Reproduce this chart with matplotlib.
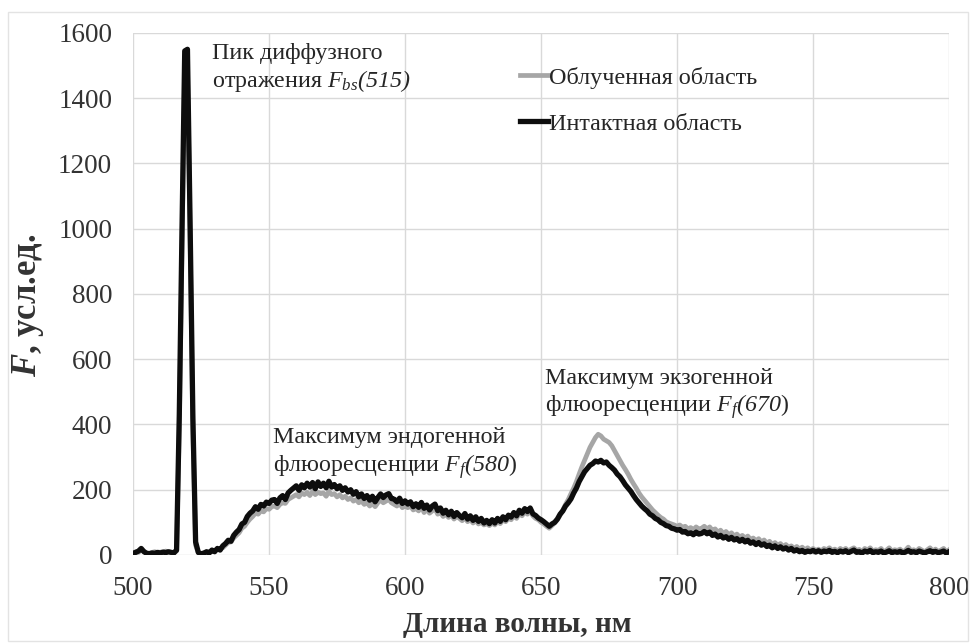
import numpy as np
import matplotlib
matplotlib.use('Agg')
import matplotlib.pyplot as plt
from matplotlib.patches import Rectangle

plt.rcParams['font.family'] = 'serif'
plt.rcParams['font.serif'] = ['Liberation Serif', 'DejaVu Serif']
plt.rcParams['mathtext.fontset'] = 'custom'
plt.rcParams['mathtext.rm'] = 'Liberation Serif'
plt.rcParams['mathtext.it'] = 'Liberation Serif:italic'
plt.rcParams['mathtext.sf'] = 'Liberation Serif:italic'   # used for italic digits
plt.rcParams['mathtext.bf'] = 'Liberation Serif:bold'
plt.rcParams['mathtext.bfit'] = 'Liberation Serif:italic:bold'

# wavelength, nm (1 nm step)
wavelength = list(range(500, 801))

# intact area, one row = 10 nm
intact = [
    5, 8, 12, 20, 10, 5, 4, 6, 5, 8,                        # 500
    6, 9, 7, 10, 8, 6, 15, 430, 1000, 1545,                 # 510
    1550, 1000, 420, 40, 8, 3, 5, 10, 6, 15,                # 520
    10, 20, 15, 28, 35, 45, 42, 60, 70, 78,                 # 530
    95, 100, 118, 128, 135, 148, 140, 155, 150, 162,        # 540
    158, 168, 170, 158, 175, 182, 170, 190, 198, 205,       # 550
    212, 198, 215, 206, 220, 208, 222, 203, 224, 210,       # 560
    220, 206, 226, 208, 216, 203, 212, 198, 206, 193,       # 570
    200, 186, 194, 178, 187, 173, 182, 168, 180, 163,       # 580
    176, 187, 176, 184, 188, 173, 171, 163, 174, 158,       # 590
    166, 156, 163, 148, 157, 146, 161, 143, 153, 138,       # 600
    150, 156, 136, 144, 128, 137, 123, 134, 118, 130,       # 610
    121, 114, 127, 110, 120, 106, 117, 103, 112, 98,        # 620
    106, 96, 108, 98, 112, 103, 117, 108, 122, 116,         # 630
    130, 120, 137, 128, 142, 133, 144, 126, 121, 113,       # 640
    108, 102, 95, 88, 95, 100, 110, 125, 135, 150,          # 650
    160, 172, 190, 205, 225, 240, 255, 265, 275, 280,       # 660
    288, 285, 290, 282, 285, 275, 268, 260, 248, 240,       # 670
    228, 215, 205, 195, 182, 170, 160, 150, 142, 135,       # 680
    125, 120, 112, 108, 100, 96, 90, 88, 82, 80,            # 690
    76, 78, 70, 72, 65, 68, 62, 70, 64, 66,                 # 700
    72, 65, 70, 60, 64, 55, 60, 52, 56, 48,                 # 710
    54, 46, 50, 42, 48, 40, 45, 36, 40, 32,                 # 720
    38, 30, 34, 26, 30, 22, 28, 20, 25, 18,                 # 730
    22, 15, 20, 12, 16, 10, 14, 8, 12, 10,                  # 740
    14, 9, 13, 8, 12, 10, 14, 8, 11, 7,                     # 750
    12, 9, 13, 7, 11, 15, 8, 10, 6, 12,                     # 760
    9, 14, 7, 10, 8, 12, 6, 9, 13, 7,                       # 770
    10, 8, 11, 6, 9, 14, 8, 10, 7, 12,                      # 780
    9, 6, 10, 13, 8, 11, 7, 9, 12, 6,                       # 790
    10,                                                     # 800
]

# irradiated area
irradiated = [
    6, 10, 8, 15, 12, 6, 5, 8, 10, 6,                       # 500
    9, 7, 12, 8, 7, 9, 12, 390, 950, 1490,                  # 510
    1500, 960, 380, 30, 6, 4, 8, 7, 10, 12,                 # 520
    14, 18, 20, 22, 30, 38, 40, 52, 60, 68,                 # 530
    82, 88, 100, 110, 118, 128, 125, 135, 132, 142,         # 540
    140, 148, 150, 145, 155, 160, 158, 170, 175, 180,       # 550
    185, 178, 190, 185, 192, 182, 195, 185, 192, 188,       # 560
    190, 180, 195, 185, 188, 178, 185, 175, 180, 170,       # 570
    175, 165, 170, 160, 165, 155, 160, 150, 158, 148,       # 580
    160, 168, 160, 165, 170, 160, 155, 150, 158, 145,       # 590
    150, 145, 150, 138, 142, 135, 148, 130, 140, 128,       # 600
    135, 142, 125, 130, 118, 125, 115, 122, 110, 118,       # 610
    112, 105, 115, 102, 108, 98, 105, 95, 100, 92,          # 620
    96, 90, 98, 92, 102, 96, 108, 102, 112, 108,            # 630
    120, 112, 128, 120, 132, 125, 135, 120, 112, 108,       # 640
    100, 95, 88, 82, 90, 98, 108, 122, 138, 155,            # 650
    170, 188, 205, 225, 248, 270, 290, 310, 330, 345,       # 660
    360, 370, 365, 355, 350, 345, 335, 320, 305, 290,       # 670
    275, 262, 248, 232, 218, 205, 190, 178, 168, 158,       # 680
    148, 138, 130, 122, 115, 110, 102, 98, 95, 92,          # 690
    88, 92, 85, 88, 80, 84, 78, 86, 80, 82,                 # 700
    88, 80, 86, 75, 80, 70, 76, 66, 72, 62,                 # 710
    68, 58, 64, 55, 60, 52, 58, 48, 52, 44,                 # 720
    50, 40, 46, 36, 42, 32, 38, 30, 35, 26,                 # 730
    32, 24, 28, 20, 26, 18, 24, 16, 22, 15,                 # 740
    20, 14, 18, 12, 20, 16, 22, 14, 18, 12,                 # 750
    20, 15, 20, 12, 18, 22, 14, 17, 10, 20,                 # 760
    15, 22, 12, 16, 14, 20, 10, 15, 22, 12,                 # 770
    16, 14, 18, 10, 15, 24, 13, 16, 12, 20,                 # 780
    15, 10, 16, 22, 12, 18, 11, 15, 20, 10,                 # 790
    16,                                                     # 800
]

labels = ['Облученная область', 'Интактная область']
x_ticks = [500, 550, 600, 650, 700, 750, 800]
y_ticks = [0, 200, 400, 600, 800, 1000, 1200, 1400, 1600]

fig = plt.figure(figsize=(9.74, 6.43), dpi=100)
ax = fig.add_axes([0.1366, 0.1369, 0.8378, 0.8118])

ax.plot(wavelength, irradiated, color='#a6a6a6', lw=3.4, label=labels[0])
ax.plot(wavelength, intact, color='#0d0d0d', lw=3.8, label=labels[1])

ax.set_xlim(500, 800)
ax.set_ylim(0, 1600)
ax.set_xticks(x_ticks)
ax.set_yticks(y_ticks)
ax.grid(True, color='#d9d9d9', lw=1.0)
ax.set_axisbelow(True)
for s in ax.spines.values():
    s.set_visible(False)
ax.tick_params(length=0, labelsize=19.5, labelcolor='#333333')
ax.tick_params(axis='y', pad=15)
ax.tick_params(axis='x', pad=15)

ax.set_xlabel('Длина волны, нм', fontsize=21, fontweight='bold', color='#333333')
ax.xaxis.set_label_coords(0.4706, -0.108)
ax.set_ylabel(r'$\mathbfit{F}$, усл.ед.', fontsize=25, fontweight='bold',
              color='#333333')
ax.yaxis.set_label_coords(-0.107, 0.479)

txt = dict(fontsize=17.3, color='#262626', va='top', ha='left', linespacing=1.2)
ax.text(529, 1568, 'Пик диффузного\nотражения $\\mathit{F_{bs}}\\mathsf{(515)}$', **txt)
ax.text(551.5, 392, 'Максимум эндогенной\nфлюоресценции $\\mathit{F_{f}}\\mathsf{(580}$)', **txt)
ax.text(651.5, 574, 'Максимум экзогенной\nфлюоресценции $\\mathit{F_{f}}\\mathsf{(670}$)', **txt)

ax.legend(loc='upper left', bbox_to_anchor=(0.534, 0.896), bbox_transform=fig.transFigure,
          frameon=False, fontsize=17.4, handlelength=1.15, handletextpad=0.05,
          labelspacing=1.0, borderpad=0, borderaxespad=0, labelcolor='#262626')

fig.patches.append(Rectangle((8 / 974, 2 / 643), 960 / 974, 629 / 643,
                             transform=fig.transFigure, fill=False,
                             edgecolor='#e3e3e3', lw=1.0))

fig.savefig('out.png', dpi=100)
